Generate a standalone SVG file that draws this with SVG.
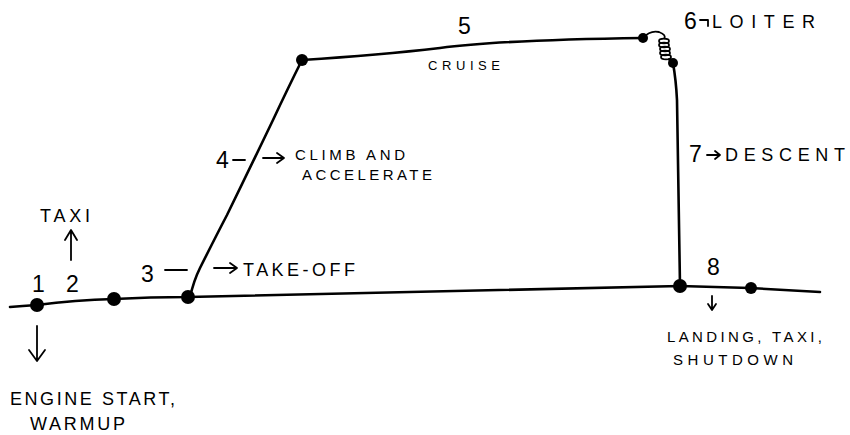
<svg xmlns="http://www.w3.org/2000/svg" width="850" height="435" viewBox="0 0 850 435">
<style>
.ln{fill:none;stroke:#000;stroke-width:2.6;stroke-linecap:round;stroke-linejoin:round}
.coil{fill:none;stroke:#000;stroke-width:1.8}
.ar{fill:none;stroke:#000;stroke-width:1.8;stroke-linecap:round;stroke-linejoin:round}
.dot{fill:#000}
.t{font-family:"Liberation Sans",Arial,sans-serif;fill:#000;font-weight:normal}
.big{font-size:23px}
.mid{font-size:18px}
.sm{font-size:15px}
</style>
<rect width="850" height="435" fill="#fff"/>
<g id="connectors">
<path class="ln" d="M10,307 Q22,306 37,305 Q75,300 114,299 Q150,297 188,297 L680,286 Q715,287 750,288 Q785,290 820,292"/>
<path class="ln" d="M190,297 Q194,280 200,268 Q215,238 227,215 Q250,168 273,120 Q288,88 302,60"/>
<path class="ln" d="M302,60 Q380,55 440,48 Q500,40 643,38"/>
<path class="coil" d="M643,38 Q650,30 659,32 Q667,35 664,39"/>
<ellipse class="coil" cx="664" cy="41" rx="5" ry="2.4"/>
<ellipse class="coil" cx="664" cy="45" rx="5" ry="2.4"/>
<ellipse class="coil" cx="665" cy="49" rx="5" ry="2.4"/>
<ellipse class="coil" cx="665" cy="53" rx="5" ry="2.4"/>
<ellipse class="coil" cx="666" cy="57" rx="5" ry="2.4"/>
<path class="coil" d="M668,59 Q671,61 673,63"/>
<path class="ln" d="M673,63 Q676,80 677,100 L680,286"/>
</g>
<g id="stage1">
<circle class="dot" cx="37" cy="305" r="7"/>
<text class="t big" x="32" y="292">1</text>
<path class="ar" d="M37,326 V360 M29,350 L37,361 L45,350"/>
<text class="t mid" x="10" y="405" textLength="165" lengthAdjust="spacing">ENGINE START,</text>
<text class="t mid" x="30" y="430" textLength="95" lengthAdjust="spacing">WARMUP</text>
</g>
<g id="stage2">
<circle class="dot" cx="114" cy="299" r="7"/>
<text class="t big" x="66" y="292">2</text>
<path class="ar" d="M71,260 V231 M65,240 L71,230 L77,240"/>
<text class="t mid" x="40" y="222" textLength="50" lengthAdjust="spacing">TAXI</text>
</g>
<g id="stage3">
<circle class="dot" cx="188" cy="297" r="7"/>
<text class="t big" x="141" y="282">3</text>
<path class="ar" d="M165,270 H187"/>
<path class="ar" d="M214,268 H236 M230,263 L237,268 L230,273"/>
<text class="t mid" x="243" y="276" textLength="112" lengthAdjust="spacing">TAKE-OFF</text>
</g>
<g id="stage4">
<text class="t big" x="216" y="168">4</text>
<path class="ar" d="M233,160 H245"/>
<path class="ar" d="M263,158 H283 M277,153 L284,158 L277,163"/>
<text class="t sm" x="295" y="160" textLength="110" lengthAdjust="spacing">CLIMB AND</text>
<text class="t sm" x="302" y="180" textLength="130" lengthAdjust="spacing">ACCELERATE</text>
</g>
<g id="stage5">
<circle class="dot" cx="302" cy="60" r="6"/>
<text class="t big" x="458" y="34">5</text>
<text class="t" style="font-size:13px" x="428" y="70" textLength="72" lengthAdjust="spacing">CRUISE</text>
</g>
<g id="stage6">
<circle class="dot" cx="643" cy="38" r="5"/>
<circle class="dot" cx="673" cy="63" r="5"/>
<text class="t big" x="684" y="29">6</text>
<path class="ar" d="M700,20 H708 V26"/>
<text class="t mid" x="712" y="28" textLength="103" lengthAdjust="spacing">LOITER</text>
</g>
<g id="stage7">
<text class="t big" x="689" y="162">7</text>
<path class="ar" d="M707,155 H719 M715,151 L720,155 L715,159"/>
<text class="t mid" x="725" y="161" textLength="120" lengthAdjust="spacing">DESCENT</text>
</g>
<g id="stage8">
<circle class="dot" cx="680" cy="286" r="7"/>
<circle class="dot" cx="751" cy="288" r="6"/>
<text class="t big" x="707" y="275">8</text>
<path class="ar" d="M712,296 V309 M708,304 L712,310 L716,304"/>
<text class="t sm" x="667" y="342" textLength="155" lengthAdjust="spacing">LANDING, TAXI,</text>
<text class="t sm" x="673" y="365" textLength="120" lengthAdjust="spacing">SHUTDOWN</text>
</g>
</svg>
